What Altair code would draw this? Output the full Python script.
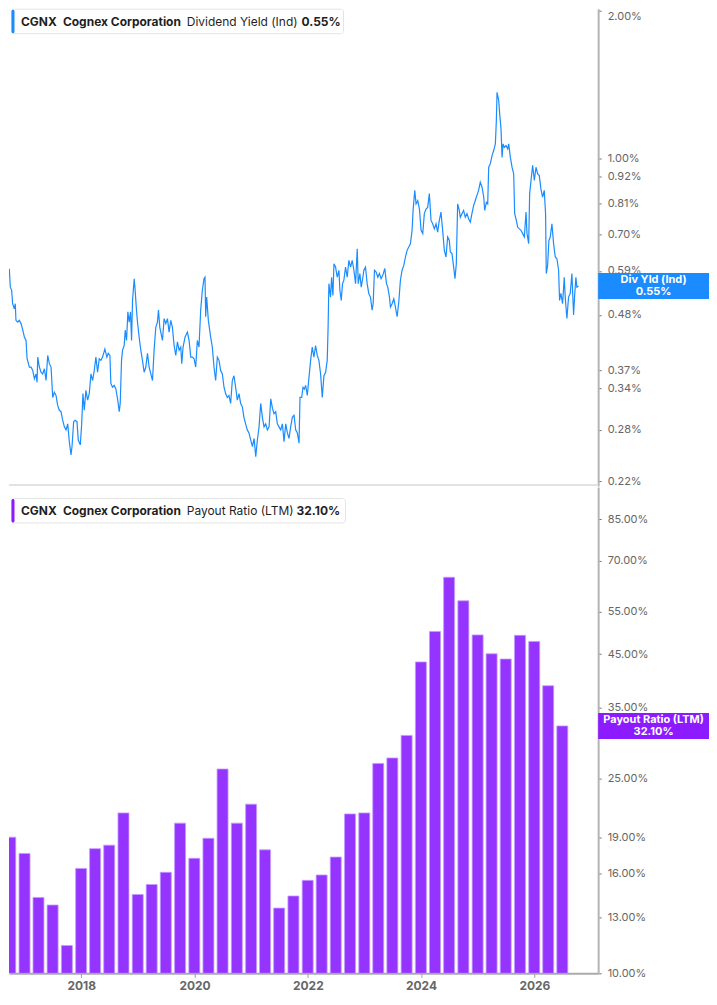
"""CGNX dividend yield and payout ratio, two stacked panels."""

from __future__ import annotations

import altair as alt
import pandas as pd

# --- dividend yield (Ind), % ; time as decimal year -------------------------
yield_years = [
    2016.674, 2016.703, 2016.732, 2016.761, 2016.790, 2016.818, 2016.836, 2016.859, 2016.876, 2016.905,
    2016.922, 2016.934, 2016.963, 2016.992, 2017.021, 2017.050, 2017.078, 2017.107, 2017.125, 2017.165,
    2017.194, 2017.223, 2017.252, 2017.281, 2017.298, 2017.310, 2017.338, 2017.367, 2017.396, 2017.425,
    2017.454, 2017.483, 2017.512, 2017.541, 2017.570, 2017.598, 2017.627, 2017.656, 2017.685, 2017.714,
    2017.743, 2017.772, 2017.801, 2017.830, 2017.858, 2017.887, 2017.905, 2017.933, 2017.957, 2017.991,
    2018.014, 2018.049, 2018.072, 2018.095, 2018.118, 2018.147, 2018.176, 2018.205, 2018.234, 2018.263,
    2018.292, 2018.320, 2018.349, 2018.378, 2018.407, 2018.436, 2018.476, 2018.511, 2018.534, 2018.563,
    2018.580, 2018.609, 2018.638, 2018.667, 2018.696, 2018.725, 2018.742, 2018.765, 2018.783, 2018.811,
    2018.829, 2018.852, 2018.875, 2018.898, 2018.921, 2018.939, 2018.956, 2018.985, 2019.002, 2019.025,
    2019.043, 2019.071, 2019.100, 2019.129, 2019.158, 2019.187,
    2019.216, 2019.245, 2019.274, 2019.303, 2019.331, 2019.360, 2019.389, 2019.407, 2019.430, 2019.447,
    2019.476, 2019.505, 2019.534, 2019.563, 2019.591, 2019.620, 2019.649, 2019.678, 2019.707, 2019.736,
    2019.765, 2019.794, 2019.811, 2019.834, 2019.869, 2019.909, 2019.938, 2019.967, 2019.996, 2020.025,
    2020.054, 2020.082, 2020.111, 2020.140, 2020.169, 2020.198, 2020.215, 2020.227, 2020.244, 2020.273,
    2020.313, 2020.342, 2020.371, 2020.400, 2020.429, 2020.458, 2020.487, 2020.516, 2020.545, 2020.573,
    2020.602, 2020.631, 2020.660, 2020.689, 2020.718, 2020.747, 2020.776, 2020.805, 2020.834, 2020.863,
    2020.891, 2020.920, 2020.949, 2020.978, 2021.007, 2021.036, 2021.065, 2021.094, 2021.122, 2021.151,
    2021.180, 2021.209, 2021.238, 2021.267, 2021.296, 2021.325, 2021.354, 2021.383, 2021.411, 2021.440,
    2021.469, 2021.498, 2021.527, 2021.556, 2021.585, 2021.614, 2021.643, 2021.671, 2021.700, 2021.729,
    2021.758, 2021.787, 2021.816, 2021.845, 2021.862, 2021.891, 2021.914, 2021.937, 2021.960, 2021.989,
    2022.018, 2022.047, 2022.075, 2022.104, 2022.133, 2022.162, 2022.191, 2022.220, 2022.249, 2022.278,
    2022.307, 2022.335, 2022.350,
    2022.364, 2022.393, 2022.411, 2022.434, 2022.452, 2022.480, 2022.509, 2022.538, 2022.555, 2022.578,
    2022.601, 2022.624, 2022.653, 2022.682, 2022.711, 2022.740, 2022.769, 2022.798, 2022.827, 2022.856,
    2022.873, 2022.902, 2022.925, 2022.954, 2022.971, 2023.000, 2023.029, 2023.057, 2023.086, 2023.115,
    2023.133, 2023.156, 2023.185, 2023.214, 2023.242, 2023.271, 2023.300, 2023.335, 2023.364, 2023.387,
    2023.416, 2023.433, 2023.462, 2023.491, 2023.520, 2023.549, 2023.578, 2023.606, 2023.635, 2023.664,
    2023.693, 2023.722, 2023.751, 2023.780, 2023.809, 2023.826, 2023.855, 2023.878, 2023.907, 2023.936,
    2023.965, 2023.994, 2024.022, 2024.051, 2024.080, 2024.109, 2024.138, 2024.167, 2024.196, 2024.225,
    2024.253, 2024.282, 2024.311, 2024.340, 2024.369, 2024.398, 2024.427, 2024.456, 2024.473, 2024.502,
    2024.531, 2024.554, 2024.577, 2024.600, 2024.629,
    2024.646, 2024.675, 2024.704, 2024.733, 2024.762, 2024.791, 2024.820, 2024.848, 2024.877, 2024.906,
    2024.935, 2024.964, 2024.993, 2025.022, 2025.051, 2025.068, 2025.097, 2025.120, 2025.137, 2025.166,
    2025.195, 2025.224, 2025.253, 2025.270, 2025.282, 2025.311, 2025.328, 2025.351, 2025.369, 2025.386,
    2025.409, 2025.438, 2025.467, 2025.484, 2025.513, 2025.542, 2025.571, 2025.588, 2025.617, 2025.640,
    2025.669, 2025.698, 2025.727, 2025.756, 2025.785, 2025.802, 2025.831, 2025.848, 2025.877, 2025.900,
    2025.929, 2025.958, 2025.987, 2026.016, 2026.044, 2026.073, 2026.102, 2026.125, 2026.137, 2026.160,
    2026.183, 2026.206, 2026.235, 2026.264, 2026.293, 2026.322, 2026.351, 2026.368, 2026.391, 2026.420,
    2026.449, 2026.466, 2026.495, 2026.524, 2026.553, 2026.582, 2026.611, 2026.628, 2026.651, 2026.668,
    2026.697,
]
yield_pct = [
    0.620, 0.583, 0.573, 0.578, 0.573, 0.596, 0.547, 0.539, 0.506, 0.494,
    0.506, 0.468, 0.464, 0.468, 0.461, 0.447, 0.433, 0.426, 0.391, 0.376,
    0.376, 0.370, 0.356, 0.364, 0.350, 0.394, 0.376, 0.367, 0.364, 0.373,
    0.353, 0.397, 0.382, 0.376, 0.326, 0.334, 0.329, 0.314, 0.307, 0.305,
    0.293, 0.284, 0.280, 0.288, 0.265, 0.249, 0.259, 0.291, 0.293, 0.291,
    0.267, 0.261, 0.286, 0.332, 0.307, 0.337, 0.322, 0.332, 0.364, 0.353,
    0.370, 0.394, 0.367, 0.391, 0.388, 0.394, 0.409, 0.394, 0.401, 0.397,
    0.348, 0.342, 0.345, 0.339, 0.324, 0.305, 0.317, 0.388, 0.407, 0.416,
    0.447, 0.426, 0.487, 0.464, 0.487, 0.426, 0.514, 0.569, 0.539, 0.491,
    0.464, 0.433, 0.407, 0.388, 0.367, 0.376,
    0.401, 0.376, 0.364, 0.353, 0.407, 0.453, 0.464, 0.491, 0.453, 0.443,
    0.426, 0.472, 0.461, 0.472, 0.443, 0.468, 0.453, 0.416, 0.397, 0.423,
    0.407, 0.413, 0.382, 0.413, 0.433, 0.443, 0.426, 0.394, 0.394, 0.391,
    0.376, 0.426, 0.413, 0.491, 0.539, 0.569, 0.573, 0.476, 0.522, 0.468,
    0.433, 0.413, 0.376, 0.353, 0.394, 0.388, 0.370, 0.364, 0.342, 0.332,
    0.326, 0.329, 0.317, 0.353, 0.361, 0.342, 0.322, 0.332, 0.317, 0.312,
    0.297, 0.288, 0.280, 0.276, 0.267, 0.259, 0.269, 0.247, 0.267, 0.284,
    0.317, 0.297, 0.284, 0.288, 0.280, 0.284, 0.324, 0.310, 0.302, 0.305,
    0.288, 0.284, 0.280, 0.288, 0.265, 0.288, 0.276, 0.269, 0.284, 0.297,
    0.300, 0.280, 0.276, 0.263, 0.326, 0.326, 0.342, 0.339, 0.345, 0.329,
    0.358, 0.388, 0.413, 0.394, 0.416, 0.397, 0.388, 0.364, 0.326, 0.361,
    0.367, 0.388, 0.451,
    0.556, 0.522, 0.573, 0.526, 0.610, 0.601, 0.573, 0.592, 0.539, 0.514,
    0.556, 0.565, 0.601, 0.573, 0.620, 0.601, 0.620, 0.592, 0.556, 0.655,
    0.556, 0.583, 0.547, 0.573, 0.592, 0.601, 0.556, 0.531, 0.522, 0.491,
    0.506, 0.592, 0.587, 0.573, 0.583, 0.569, 0.578, 0.597, 0.556, 0.547,
    0.522, 0.498, 0.506, 0.518, 0.498, 0.476, 0.510, 0.565, 0.592, 0.605,
    0.630, 0.650, 0.660, 0.671, 0.714, 0.784, 0.861, 0.808, 0.821, 0.789,
    0.714, 0.703, 0.772, 0.789, 0.795, 0.848, 0.748, 0.736, 0.719, 0.736,
    0.708, 0.748, 0.778, 0.714, 0.650, 0.630, 0.692, 0.681, 0.645, 0.640,
    0.601, 0.569, 0.610, 0.808, 0.784,
    0.759, 0.772, 0.784, 0.759, 0.772, 0.754, 0.742, 0.772, 0.802, 0.821,
    0.841, 0.861, 0.895, 0.874, 0.834, 0.784, 0.814, 0.808, 0.960, 0.976,
    1.014, 1.038, 1.071, 1.195, 1.364, 1.312, 1.233, 1.149, 1.005, 1.071,
    1.054, 1.063, 1.046, 1.071, 1.005, 0.960, 0.930, 0.772, 0.748, 0.725,
    0.719, 0.714, 0.703, 0.692, 0.778, 0.703, 0.671, 0.848, 0.915, 0.968,
    0.902, 0.960, 0.930, 0.923, 0.867, 0.834, 0.861, 0.772, 0.583, 0.605,
    0.681, 0.692, 0.736, 0.671, 0.630, 0.625, 0.592, 0.514, 0.531, 0.506,
    0.573, 0.522, 0.472, 0.522, 0.531, 0.583, 0.480, 0.522, 0.573, 0.547,
    0.550,
]

# --- payout ratio (LTM), %, one bar per quarter end -------------------------
payout_quarters = pd.date_range("2016-09-30", periods=40, freq="QE")
payout_pct = [
    19.0, 17.6, 14.3, 13.8, 11.4, 16.4, 18.0, 18.3, 21.3, 14.5,
    15.2, 16.1, 20.3, 17.2, 18.9, 26.2, 20.3, 22.2, 17.9, 13.6,
    14.4, 15.5, 15.9, 17.3, 21.2, 21.3, 26.9, 27.6, 30.7, 43.4,
    50.1, 64.7, 57.9, 49.3, 45.1, 44.0, 49.2, 47.8, 38.8, 32.1,
]

yield_ticks = [0.22, 0.28, 0.34, 0.37, 0.48, 0.59, 0.70, 0.81, 0.92, 1.00, 2.00]
payout_ticks = [10, 13, 16, 19, 25, 35, 45, 55, 70, 85]
year_ticks = [2018, 2020, 2022, 2024, 2026]

ticker = "CGNX"
company = "Cognex Corporation"
yield_name = "Dividend Yield (Ind)"
payout_name = "Payout Ratio (LTM)"
yield_badge = "Div Yld (Ind)"
yield_latest = 0.55
payout_latest = 32.10

BLUE = "#1a8cff"
PURPLE = "#9534ff"
PURPLE_BADGE = "#8c1bff"
FONT = "Inter"

PLOT_W = 590
TOP_H = 478
BOT_H = 487
RIGHT_EDGE = 701


def decimal_year(t: float) -> pd.Timestamp:
    year = int(t)
    return pd.Timestamp(year=year, month=1, day=1) + pd.Timedelta(days=(t - year) * 365.25)


yield_df = pd.DataFrame(
    {"date": [decimal_year(t) for t in yield_years], "value": yield_pct}
)
payout_df = pd.DataFrame({"date": payout_quarters, "value": payout_pct})

x_scale = alt.Scale(
    domain=[
        alt.DateTime(year=2016, month=10, date=24),
        alt.DateTime(year=2027, month=1, date=15),
    ]
)


def y_axis(values: list[float], **extra) -> alt.Axis:
    return alt.Axis(
        orient="right",
        values=values,
        labelExpr="format(datum.value, '.2f') + '%'",
        title=None,
        grid=False,
        tickSize=3,
        tickColor="#777777",
        domainColor="#b5b5b5",
        domainWidth=2,
        labelColor="#666666",
        labelFontSize=11,
        labelFont=FONT,
        labelPadding=6,
        labelOverlap=False,
        **extra,
    )


def header(parts: list[tuple[str, float, bool]], color: str, y0: float, box_w: float):
    one = pd.DataFrame({"k": [0]})
    layers = [
        alt.Chart(one)
        .mark_rect(fill="white", stroke="#e4e4e4", strokeWidth=1, cornerRadius=3)
        .encode(
            x=alt.value(2.5),
            x2=alt.value(box_w),
            y=alt.value(y0 + 0.5),
            y2=alt.value(y0 + 25),
        ),
        alt.Chart(one)
        .mark_rect(fill=color, cornerRadius=2)
        .encode(
            x=alt.value(2.5),
            x2=alt.value(5.5),
            y=alt.value(y0 + 1),
            y2=alt.value(y0 + 24.5),
        ),
    ]
    for text, xpos, bold in parts:
        layers.append(
            alt.Chart(one)
            .mark_text(
                align="left",
                baseline="middle",
                font=FONT,
                fontSize=12,
                fontWeight="bold" if bold else "normal",
                color="#1f1f1f",
            )
            .encode(x=alt.value(xpos), y=alt.value(y0 + 13), text=alt.value(text))
        )
    return layers


def badge(field_df: pd.DataFrame, color: str, y_enc: alt.Y):
    rect = (
        alt.Chart(field_df)
        .mark_rect(color=color, yOffset=-13, y2Offset=13)
        .encode(
            x=alt.value(PLOT_W),
            x2=alt.value(RIGHT_EDGE),
            y=y_enc,
            y2=alt.Y2("value:Q"),
        )
    )
    cx = (PLOT_W + RIGHT_EDGE) / 2
    line1 = (
        alt.Chart(field_df)
        .mark_text(font=FONT, fontSize=11, fontWeight="bold", color="white", dy=-6)
        .encode(x=alt.value(cx), y=y_enc, text="label:N")
    )
    line2 = (
        alt.Chart(field_df)
        .mark_text(font=FONT, fontSize=11, fontWeight="bold", color="white", dy=6)
        .encode(x=alt.value(cx), y=y_enc, text="value_label:N")
    )
    return [rect, line1, line2]


# --- top panel: dividend yield line ------------------------------------------
yield_y = alt.Y(
    "value:Q",
    scale=alt.Scale(type="log", domain=[0.2152, 2.019], nice=False),
    axis=y_axis(yield_ticks, labelFlush=3),
)

yield_line = (
    alt.Chart(yield_df)
    .mark_line(color=BLUE, strokeWidth=1.2, clip=True)
    .encode(x=alt.X("date:T", scale=x_scale, axis=None), y=yield_y)
)

separator = (
    alt.Chart(pd.DataFrame({"k": [0]}))
    .mark_rule(color="#e2e2e2", strokeWidth=2)
    .encode(x=alt.value(0), x2=alt.value(PLOT_W), y=alt.value(TOP_H - 1))
)

yield_badge_df = pd.DataFrame(
    {
        "value": [yield_latest],
        "label": [yield_badge],
        "value_label": [f"{yield_latest:.2f}%"],
    }
)

top = alt.layer(
    yield_line,
    separator,
    *header(
        [
            (ticker, 12, True),
            (company, 54, True),
            (yield_name, 178, False),
            (f"{yield_latest:.2f}%", 293, True),
        ],
        BLUE,
        0,
        335,
    ),
    *badge(yield_badge_df, BLUE, alt.Y("value:Q")),
).properties(width=PLOT_W, height=TOP_H)

# --- bottom panel: payout ratio bars -----------------------------------------
payout_y = alt.Y(
    "value:Q",
    scale=alt.Scale(type="log", domain=[10, 99], nice=False),
    axis=y_axis(payout_ticks),
)

payout_bars = (
    alt.Chart(payout_df)
    .mark_bar(width=11, color=PURPLE, stroke="#c49bff", strokeWidth=0.8, clip=True)
    .encode(
        x=alt.X(
            "date:T",
            scale=x_scale,
            axis=alt.Axis(
                values=[alt.DateTime(year=y, month=1, date=1) for y in year_ticks],
                format="%Y",
                title=None,
                grid=False,
                labelFont=FONT,
                labelFontSize=12,
                labelFontWeight="bold",
                labelColor="#666666",
                tickSize=4,
                tickColor="#999999",
                domainColor="#aaaaaa",
                domainWidth=2,
                labelPadding=3,
            ),
        ),
        y=payout_y,
        y2=alt.datum(10),
    )
)

payout_badge_df = pd.DataFrame(
    {
        "value": [payout_latest],
        "label": [payout_name],
        "value_label": [f"{payout_latest:.2f}%"],
    }
)

bottom = alt.layer(
    payout_bars,
    *header(
        [
            (ticker, 12, True),
            (company, 54, True),
            (payout_name, 178, False),
            (f"{payout_latest:.2f}%", 288, True),
        ],
        PURPLE_BADGE,
        11,
        337,
    ),
    *badge(payout_badge_df, PURPLE_BADGE, alt.Y("value:Q")),
).properties(width=PLOT_W, height=BOT_H)

chart = (
    alt.vconcat(top, bottom, spacing=0)
    .resolve_scale(y="independent")
    .properties(padding=0, background="white")
    .configure(font=FONT)
    .configure_view(strokeWidth=0)
)

chart.save("out.html", embed_options={"renderer": "svg", "actions": False})
